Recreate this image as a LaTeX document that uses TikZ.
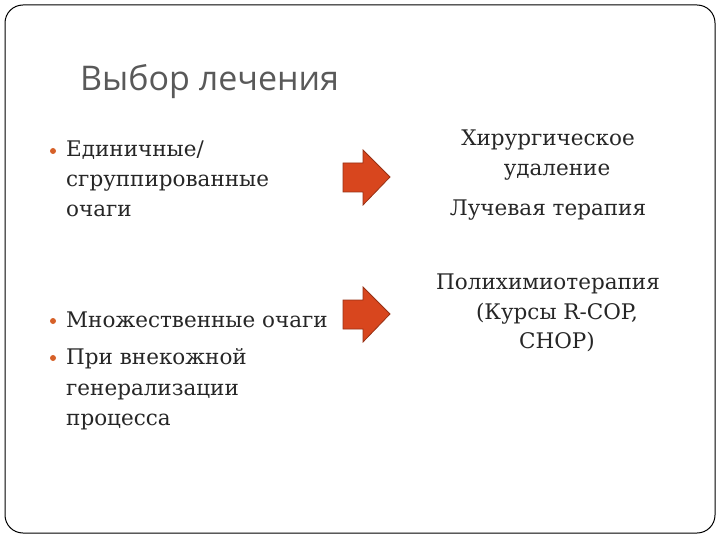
\documentclass[tikz,border=0pt]{standalone}
\usepackage{fontspec}
\setmainfont{DejaVu Serif}
\newfontfamily\titlefont{Open Sans}
\definecolor{arr}{RGB}{216,70,30}
\definecolor{bulc}{RGB}{214,96,40}
\begin{document}
\begin{tikzpicture}[x=1pt,y=-1pt,
  body/.style={anchor=base west,inner sep=0pt,font=\fontsize{21.5}{28}\selectfont,text=black!85},
  rbody/.style={anchor=base,inner sep=0pt,font=\fontsize{21.5}{28}\selectfont,text=black!85},
  bul/.style={circle,fill=bulc,inner sep=0pt,minimum size=6pt},
  barrow/.style={fill=arr,draw=arr!70!black,line width=0.8pt}]
\useasboundingbox (0,0) rectangle (720,540);
\draw[line width=1pt,rounded corners=18pt] (5,5) rectangle (715,533);
\node[anchor=west,inner sep=0pt,font=\titlefont\fontsize{34}{40}\selectfont,text=black!65] (t) at (80,82) {Выбор лечения};
\node[bul] (b1) at (53,151) {};
\node[body] (l1a) at (66,157) {Единичные/};
\node[body] (l1b) at (66,187) {сгруппированные};
\node[body] (l1c) at (66,217) {очаги};
\node[bul] (b2) at (53,321) {};
\node[bul] (b3) at (53,358) {};
\node[body] (l2a) at (66,327) {Множественные очаги};
\node[body] (l2b) at (66,364) {При внекожной};
\node[body] (l2c) at (66,395) {генерализации};
\node[body] (l2d) at (66,425) {процесса};
\node[rbody] (r1a) at (548,146) {Хирургическое};
\node[rbody] (r1b) at (557,176) {удаление};
\node[rbody] (r1c) at (548,215) {Лучевая терапия};
\node[rbody] (r2a) at (548,289) {Полихимиотерапия};
\node[rbody] (r2b) at (557,319) {(Курсы R-COP,};
\node[rbody] (r2c) at (557,348) {CHOP)};
\draw[barrow] (343,163) -- (363,163) -- (363,150) -- (390,177) -- (363,205) -- (363,192) -- (343,192) -- cycle;
\draw[barrow] (343,300) -- (363,300) -- (363,287) -- (390,314) -- (363,342) -- (363,329) -- (343,329) -- cycle;
\end{tikzpicture}
\end{document}
